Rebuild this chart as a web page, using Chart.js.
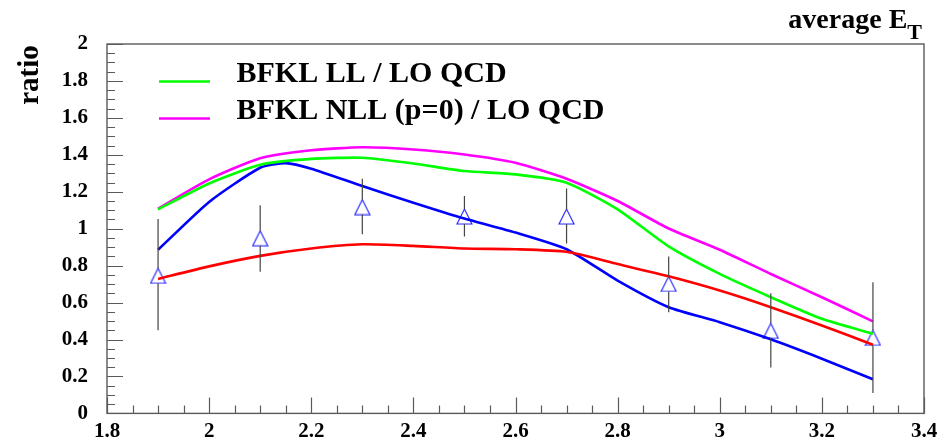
<!DOCTYPE html>
<html>
<head>
<meta charset="utf-8">
<script src="https://cdn.jsdelivr.net/npm/chart.js@4.4.1/dist/chart.umd.min.js"></script>
<style>
  html, body { margin: 0; padding: 0; background: #fff; }
  canvas { display: block; }
</style>
</head>
<body>
<canvas id="ratio" width="947" height="445"></canvas>
<script>
// theory curves, sampled every 0.1 in average E_T
const etGrid = [1.9, 2.0, 2.1, 2.2, 2.3, 2.4, 2.5, 2.6, 2.7, 2.8, 2.9, 3.0, 3.1, 3.2, 3.3];
const bfklLL = [1.105, 1.245, 1.346, 1.378, 1.384, 1.353, 1.312, 1.294, 1.249, 1.105, 0.904, 0.755, 0.629, 0.512, 0.431];
const bfklNLL = [1.109, 1.267, 1.382, 1.425, 1.441, 1.429, 1.402, 1.357, 1.27, 1.15, 1.001, 0.886, 0.755, 0.629, 0.498];
const redCurve = [0.728, 0.796, 0.853, 0.893, 0.916, 0.907, 0.893, 0.889, 0.875, 0.809, 0.742, 0.665, 0.575, 0.476, 0.372];

// blue curve has an extra sample at its maximum
const blueEt = [1.9, 2.0, 2.1, 2.15, 2.2, 2.3, 2.4, 2.5, 2.6, 2.7, 2.8, 2.9, 3.0, 3.1, 3.2, 3.3];
const blueCurve = [0.886, 1.145, 1.33, 1.355, 1.325, 1.231, 1.141, 1.055, 0.979, 0.889, 0.719, 0.575, 0.494, 0.401, 0.296, 0.185];

// measured points with error bar ends
const dataEt = [1.9, 2.1, 2.3, 2.5, 2.7, 2.9, 3.1, 3.3];
const dataRatio = [0.745, 0.948, 1.117, 1.066, 1.066, 0.701, 0.447, 0.409];
const errHigh = [1.052, 1.127, 1.271, 1.177, 1.217, 0.85, 0.651, 0.71];
const errLow = [0.45, 0.767, 0.97, 0.958, 0.92, 0.548, 0.248, 0.11];

const xTicks = [1.8, 3.4, 0.2];
const yTicks = [0, 2, 0.2];

const serif = "'Liberation Serif', 'Times New Roman', serif";
const frameColor = '#5a5a5a';

const toPoints = (xs, ys) => xs.map((x, i) => ({ x: x, y: ys[i] }));
const tickText = (v) => String(Number(v.toFixed(2)));

// open triangle marker
const marker = document.createElement('canvas');
marker.width = 17;
marker.height = 17;
const mc = marker.getContext('2d');
mc.strokeStyle = '#1f1fff';
mc.lineWidth = 1.1;
mc.beginPath();
mc.moveTo(8.5, 1);
mc.lineTo(16, 16);
mc.lineTo(1, 16);
mc.closePath();
mc.stroke();

// frame with inward ticks
const framePlugin = {
  id: 'frame',
  beforeDatasetsDraw(chart) {
    const { ctx, chartArea: a, scales } = chart;
    ctx.save();
    ctx.strokeStyle = frameColor;
    ctx.lineWidth = 1.4;
    ctx.strokeRect(a.left, a.top, a.right - a.left, a.bottom - a.top);
    ctx.lineWidth = 1.2;
    ctx.beginPath();
    for (let i = 0; i <= 40; i++) {
      const v = yTicks[0] + i * 0.05;
      const py = Math.round(scales.y.getPixelForValue(v)) + 0.5;
      const len = i % 4 === 0 ? 16 : 8;
      ctx.moveTo(a.left, py);
      ctx.lineTo(a.left + len, py);
    }
    for (let i = 0; i <= 32; i++) {
      const v = xTicks[0] + i * 0.05;
      const px = Math.round(scales.x.getPixelForValue(v)) + 0.5;
      const len = i % 4 === 0 ? 16 : 8;
      ctx.moveTo(px, a.bottom);
      ctx.lineTo(px, a.bottom - len);
    }
    ctx.stroke();
    ctx.restore();
  }
};

// vertical error bars, broken around the marker
const errorBarPlugin = {
  id: 'errorBars',
  afterDatasetsDraw(chart) {
    const { ctx, scales } = chart;
    ctx.save();
    ctx.strokeStyle = '#444';
    ctx.lineWidth = 1.2;
    ctx.beginPath();
    dataEt.forEach((x, i) => {
      const px = scales.x.getPixelForValue(x);
      const cy = scales.y.getPixelForValue(dataRatio[i]);
      const top = scales.y.getPixelForValue(errHigh[i]);
      const bot = scales.y.getPixelForValue(errLow[i]);
      if (top < cy - 7.5) {
        ctx.moveTo(px, top);
        ctx.lineTo(px, cy - 7.5);
      }
      if (bot > cy + 7.5) {
        ctx.moveTo(px, cy + 7.5);
        ctx.lineTo(px, bot);
      }
    });
    ctx.stroke();
    ctx.restore();
  }
};

// axis titles and legend
const labelPlugin = {
  id: 'labels',
  afterDraw(chart) {
    const ctx = chart.ctx;
    ctx.save();
    ctx.fillStyle = '#000';

    ctx.font = 'bold 29px ' + serif;
    ctx.textBaseline = 'alphabetic';
    ctx.textAlign = 'center';
    ctx.save();
    ctx.translate(38, 75);
    ctx.rotate(-Math.PI / 2);
    ctx.fillText('ratio', 0, 0);
    ctx.restore();

    ctx.textAlign = 'left';
    ctx.font = 'bold 28px ' + serif;
    const main = 'average E';
    const wMain = ctx.measureText(main).width;
    ctx.font = 'bold 22px ' + serif;
    const wSub = ctx.measureText('T').width;
    const x0 = 922 - wSub - wMain;
    ctx.font = 'bold 28px ' + serif;
    ctx.fillText(main, x0, 28);
    ctx.font = 'bold 22px ' + serif;
    ctx.fillText('T', x0 + wMain, 39);

    const entries = [
      { text: 'BFKL LL / LO QCD', color: '#00ff00', y: 81.5 },
      { text: 'BFKL NLL (p=0) / LO QCD', color: '#ff00ff', y: 118.5 }
    ];
    ctx.font = 'bold 30px ' + serif;
    ctx.lineWidth = 2.6;
    entries.forEach(e => {
      ctx.strokeStyle = e.color;
      ctx.beginPath();
      ctx.moveTo(159, e.y);
      ctx.lineTo(210, e.y);
      ctx.stroke();
      ctx.fillText(e.text, 236.5, e.y);
    });
    ctx.restore();
  }
};

const curve = (label, xs, ys, color) => ({
  label: label,
  data: toPoints(xs, ys),
  showLine: true,
  borderColor: color,
  backgroundColor: color,
  borderWidth: 2.6,
  pointRadius: 0,
  tension: 0.2
});

const ctx = document.getElementById('ratio');
new Chart(ctx, {
  type: 'scatter',
  data: {
    datasets: [
      curve('BFKL LL / LO QCD', etGrid, bfklLL, '#00ff00'),
      curve('BFKL NLL (p=0) / LO QCD', etGrid, bfklNLL, '#ff00ff'),
      curve('red', etGrid, redCurve, '#ff0000'),
      curve('blue', blueEt, blueCurve, '#0000ff'),
      {
        label: 'data',
        data: toPoints(dataEt, dataRatio),
        showLine: false,
        pointStyle: marker,
        pointRadius: 8,
        pointHoverRadius: 8
      }
    ]
  },
  options: {
    responsive: false,
    animation: false,
    events: [],
    layout: { padding: { left: 0, right: 23, top: 44, bottom: 0 } },
    scales: {
      x: {
        type: 'linear',
        min: xTicks[0],
        max: xTicks[1],
        afterFit: (scale) => { scale.height = 30; },
        grid: { display: false, drawTicks: false },
        border: { display: false },
        ticks: {
          stepSize: xTicks[2],
          padding: 6,
          color: '#000',
          font: { family: serif, size: 21, weight: 'bold' },
          callback: tickText
        }
      },
      y: {
        type: 'linear',
        min: yTicks[0],
        max: yTicks[1],
        afterFit: (scale) => { scale.width = 107; },
        grid: { display: false, drawTicks: false },
        border: { display: false },
        ticks: {
          stepSize: yTicks[2],
          padding: 19,
          color: '#000',
          font: { family: serif, size: 21, weight: 'bold' },
          callback: tickText
        }
      }
    },
    plugins: {
      legend: { display: false },
      tooltip: { enabled: false }
    }
  },
  plugins: [framePlugin, errorBarPlugin, labelPlugin]
});
</script>
</body>
</html>
